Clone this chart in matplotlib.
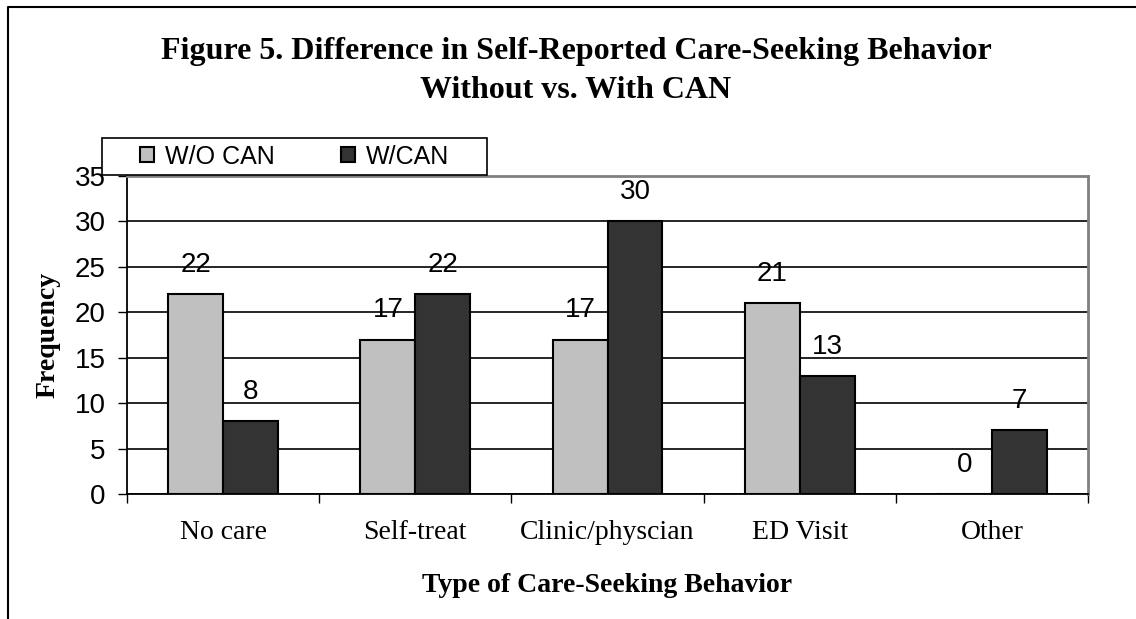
import numpy as np
import matplotlib
matplotlib.use('Agg')
import matplotlib.pyplot as plt
from matplotlib.lines import Line2D
from matplotlib.patches import Rectangle

categories = ['No care', 'Self-treat', 'Clinic/physcian', 'ED Visit', 'Other']
without_can = [22, 17, 17, 21, 0]
with_can = [8, 22, 30, 13, 7]
series_names = ['W/O CAN', 'W/CAN']

W, H = 1136, 619
fig = plt.figure(figsize=(W / 100, H / 100), dpi=100)
ax = fig.add_axes([127 / W, 1 - 494 / H, (1088 - 127) / W, (494 - 176) / H])

x = np.arange(len(categories))
bw = 0.286
b1 = ax.bar(x - bw / 2, without_can, bw, color='#C0C0C0', edgecolor='black', linewidth=1.5,
            label=series_names[0], zorder=3)
b2 = ax.bar(x + bw / 2, with_can, bw, color='#333333', edgecolor='black', linewidth=1.5,
            label=series_names[1], zorder=3)

# valores em cima das barras
for bars in (b1, b2):
    for bar in bars:
        ax.annotate(f'{bar.get_height():.0f}', (bar.get_x() + bar.get_width() / 2, bar.get_height()),
                    xytext=(0, 21), textcoords='offset points', ha='center', va='center',
                    fontsize=20, family='Liberation Sans')

ax.set_xlim(-0.5, len(categories) - 0.5)
ax.set_ylim(0, 35)
ax.set_yticks(range(0, 36, 5))
ax.yaxis.grid(True, color='black', linewidth=1.2, zorder=0)
ax.set_axisbelow(True)

ax.set_xticks(np.arange(-0.5, len(categories)), labels=[''] * (len(categories) + 1))
ax.set_xticks(x, labels=categories, minor=True)
ax.tick_params(axis='x', which='major', length=6.5, width=1, direction='out')
ax.tick_params(axis='x', which='minor', length=0, pad=19, labelsize=20)
ax.tick_params(axis='y', length=6.5, width=1, pad=9, labelsize=20)
for lbl in ax.get_xticklabels(minor=True):
    lbl.set_family('Liberation Serif')
for lbl in ax.get_yticklabels():
    lbl.set_family('Liberation Sans')

for s in ('left', 'bottom'):
    ax.spines[s].set_color('black')
    ax.spines[s].set_linewidth(1.3)
for s in ('top', 'right'):
    ax.spines[s].set_color('#808080')
    ax.spines[s].set_linewidth(2)

ax.set_xlabel('Type of Care-Seeking Behavior', fontsize=20, fontweight='bold', family='Liberation Serif')
ax.xaxis.label.set_va('center')
ax.xaxis.set_label_coords(0.5, (494 - 585) / 318)
ax.set_ylabel('Frequency', fontsize=20, fontweight='bold', family='Liberation Serif')
ax.yaxis.label.set_va('center')
ax.yaxis.set_label_coords((48 - 127) / 961, 0.5)

fig.text(576 / W, 1 - 71 / H,
         'Figure 5. Difference in Self-Reported Care-Seeking Behavior\nWithout vs. With CAN',
         ha='center', va='center', multialignment='center', linespacing=1.45,
         fontsize=23, fontweight='bold', family='Liberation Serif')

# caixa da legenda desenhada a parte, legenda centrada dentro dela
lx0, ly0, lw, lh = 102 / W, 1 - 175 / H, (487 - 102) / W, 37 / H
fig.add_artist(Rectangle((lx0, ly0), lw, lh, transform=fig.transFigure, facecolor='white',
                         edgecolor='black', linewidth=1.2, zorder=4))
leg = fig.legend(handles=[b1, b2], labels=series_names, ncol=2,
                 loc='center', bbox_to_anchor=(lx0, ly0, lw, lh),
                 borderaxespad=0, frameon=False, borderpad=0,
                 handlelength=0.55, handleheight=0.55, handletextpad=0.45, columnspacing=2.65,
                 prop={'family': 'Liberation Sans', 'size': 18})
leg.set_zorder(5)

# moldura da figura (esquerda e topo)
fig.add_artist(Line2D([8 / W, 8 / W, 1], [0, 1 - 7 / H, 1 - 7 / H], color='black', linewidth=1.5,
                      transform=fig.transFigure))

fig.savefig('out.png', dpi=100)
